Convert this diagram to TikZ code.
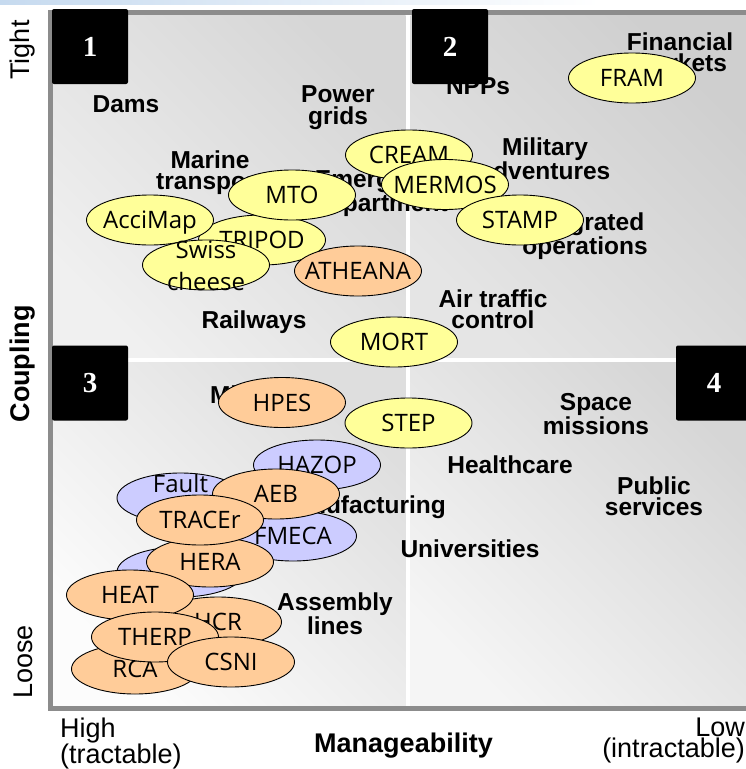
\documentclass[tikz,border=0pt]{standalone}
\usepackage{fontspec}
\setmainfont{Liberation Sans}
\newfontfamily\handfont{Open Sans}
\newfontfamily\digitfont{Liberation Serif}
\usetikzlibrary{shapes.geometric}
\definecolor{yelfill}{HTML}{FFFF99}
\definecolor{orafill}{HTML}{FFCC99}
\definecolor{blufill}{HTML}{CCCCFF}
\definecolor{framegray}{HTML}{8C8C8C}
\definecolor{topbar}{HTML}{C6DAEF}
\begin{document}
\begin{tikzpicture}[x=1pt,y=-1pt,
  dom/.style={font=\bfseries\fontsize{24.5}{21.5}\selectfont, align=center, anchor=north, inner sep=0pt},
  ell/.style={shape=ellipse, draw=black, line width=0.9pt, minimum width=127pt, minimum height=50pt, inner sep=0pt},
  yel/.style={ell, fill=yelfill},
  ora/.style={ell, fill=orafill},
  blu/.style={ell, fill=blufill},
  hand/.style={font=\handfont\fontsize{24}{24}\selectfont, text height=17pt, text depth=0pt, inner sep=0pt},
  numbox/.style={fill=black, rounded corners=2pt, minimum width=76pt, minimum height=75pt, inner sep=0pt,
    text=white, font=\digitfont\bfseries\fontsize{29}{29}\selectfont},
  axislbl/.style={font=\fontsize{27}{21}\selectfont, inner sep=0pt},
  quad/.style={shading=axis, shading angle=-45},
]
\useasboundingbox (0,0) rectangle (746,769);
\fill[white] (0,0) rectangle (746,769);
\shade[left color=topbar, right color=white] (0,0) rectangle (600,4);

% the four quadrants, lighter towards the lower left
\shade[bottom color=black!6, top color=black!16, quad] (53,15) rectangle (405.5,357.5);
\shade[bottom color=black!10, top color=black!19, quad] (410.5,15) rectangle (746,357.5);
\shade[bottom color=black!1, top color=black!13, quad] (53,362.5) rectangle (405.5,706);
\shade[bottom color=black!4, top color=black!16, quad] (410.5,362.5) rectangle (746,706);
\draw[framegray, line width=5pt] (746,12.5) -- (50.8,12.5) -- (50.8,708.5) -- (746,708.5);

% domains
\node[dom] (dams) at (126,95.5) {Dams};
\node[dom] (power) at (338,85.5) {Power\\grids};
\node[dom] (marine) at (210,150.5) {Marine\\transport};
\node[dom] (emerg) at (381,170.5) {Emergency\\department};
\node[dom] (military) at (545,137.5) {Military\\adventures};
\node[dom] (integr) at (585,212.5) {Integrated\\operations};
\node[dom] (finance) at (680,32.5) {Financial\\markets};
\node[dom] (npp) at (478,77.5) {NPPs};
\node[dom] (atc) at (493,289.5) {Air traffic\\control};
\node[dom] (rail) at (254,310.5) {Railways};
\node[dom] (mining) at (249.5,385.5) {Mining};
\node[dom] (space) at (596,393.5) {Space\\missions};
\node[dom] (health) at (510,455.5) {Healthcare};
\node[dom] (public) at (654,476.5) {Public\\services};
\node[dom, anchor=north east] (manuf) at (446,495.5) {Manufacturing};
\node[dom] (univ) at (470,539.5) {Universities};
\node[dom] (assembly) at (335,592.5) {Assembly\\lines};

% methods, upper half
\node[yel, label={[hand]center:CREAM}] (cream) at (409,155) {};
\node[yel, label={[hand]center:MERMOS}] (mermos) at (445,184.5) {};
\node[yel, label={[hand]center:STAMP}] (stamp) at (520,220) {};
\node[yel, label={[hand]center:FRAM}] (fram) at (632,78) {};
\node[yel, label={[hand]center:TRIPOD}] (tripod) at (262,240) {};
\node[yel, label={[hand]center:AcciMap}] (accimap) at (150,220) {};
\node[yel, label={[hand]center:MTO}] (mto) at (292,195) {};
\node[yel, label={[hand,yshift=15.5pt]center:Swiss}, label={[hand,yshift=-16.5pt]center:cheese}] (swiss) at (206,265) {};
\node[ora, label={[hand]center:ATHEANA}] (atheana) at (358,271) {};
\node[yel, label={[hand]center:MORT}] (mort) at (394,342) {};

% methods, lower half
\node[ora, label={[hand]center:HPES}] (hpes) at (282,402.5) {};
\node[yel, label={[hand]center:STEP}] (step) at (408.5,423) {};
\node[blu, label={[hand]center:HAZOP}] (hazop) at (317,465) {};
\node[blu, label={[hand,yshift=14pt]center:Fault}] (fault) at (180.5,498) {};
\node[blu, label={[hand]center:FMECA}] (fmeca) at (293,536) {};
\node[ora, label={[hand]center:AEB}] (aeb) at (276,494) {};
\node[blu] (hidden) at (180.5,572) {};
\node[ora, label={[hand]center:HERA}] (hera) at (210,562) {};
\node[ora, label={[hand]center:TRACEr}] (tracer) at (200,520) {};
\node[ora, label={[hand]center:HCR}] (hcr) at (218,622) {};
\node[ora, label={[hand]center:HEAT}] (heat) at (130,595) {};
\node[ora, label={[hand]center:RCA}] (rca) at (135,669) {};
\node[ora, label={[hand]center:THERP}] (therp) at (155,637) {};
\node[ora, label={[hand]center:CSNI}] (csni) at (231,662) {};

% quadrant numbers
\node[numbox] (q1) at (90,46.5) {1};
\node[numbox] (q2) at (450,46.5) {2};
\node[numbox] (q3) at (90,383) {3};
\node[numbox] (q4) at (714,383) {4};

% axes
\node[axislbl, rotate=90] (tight) at (23,50) {Tight};
\node[axislbl, rotate=90, font=\bfseries\fontsize{27}{27}\selectfont] (coupling) at (23,364) {Coupling};
\node[axislbl, rotate=90] (loose) at (23,662) {Loose};
\node[axislbl, align=left, anchor=north west] (high) at (60,718) {High\\(tractable)};
\node[axislbl, font=\bfseries\fontsize{27}{27}\selectfont, anchor=north] (manage) at (403.5,733) {Manageability};
\node[axislbl, align=right, anchor=north east] (low) at (745,718) {Low\\(intractable)};
\end{tikzpicture}
\end{document}
